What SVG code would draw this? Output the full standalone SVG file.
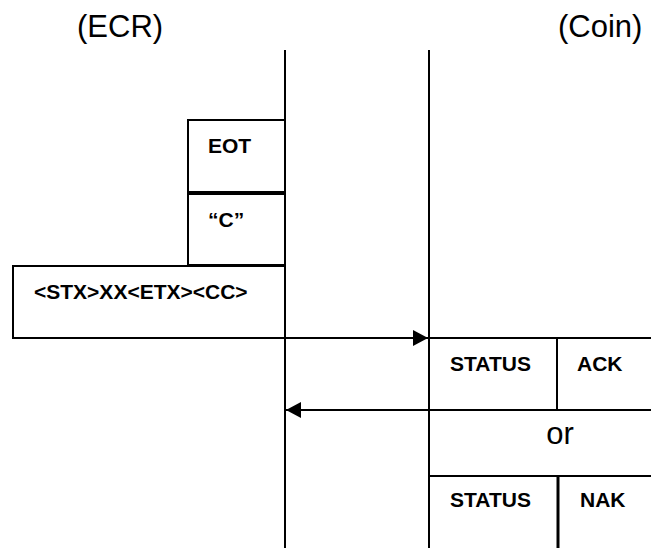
<svg xmlns="http://www.w3.org/2000/svg" width="651" height="548" viewBox="0 0 651 548">
  <style>
    .ln { stroke: #000; stroke-width: 2; fill: none; }
    .box { stroke: #000; stroke-width: 2; fill: #fff; }
    .hdr { font-family: "Liberation Sans", Arial, sans-serif; font-size: 31px; fill: #000; }
    .lbl { font-family: "Liberation Sans", Arial, sans-serif; font-size: 21px; font-weight: bold; fill: #000; }
  </style>
  <defs>
    <marker id="arrow" viewBox="0 0 15 16" refX="15" refY="8" markerWidth="15" markerHeight="16" markerUnits="userSpaceOnUse" orient="auto">
      <path d="M0,0 L15,8 L0,16 Z" fill="#000"/>
    </marker>
  </defs>

  <rect width="651" height="548" fill="#fff"/>

  <!-- lifeline headers -->
  <g id="ecr-header">
    <text class="hdr" x="77" y="37">(ECR)</text>
  </g>
  <g id="coin-header">
    <text class="hdr" x="558" y="37">(Coin)</text>
  </g>

  <!-- ECR side frames -->
  <g id="eot">
    <rect class="box" x="188" y="120" width="97" height="72"/>
    <text class="lbl" x="208" y="153">EOT</text>
  </g>
  <g id="char-c">
    <rect class="box" x="188" y="194" width="97" height="71"/>
    <text class="lbl" x="208" y="227">“C”</text>
  </g>
  <g id="message">
    <rect class="box" x="13" y="266" width="272" height="72"/>
    <text class="lbl" x="34" y="299">&lt;STX&gt;XX&lt;ETX&gt;&lt;CC&gt;</text>
  </g>

  <!-- Coin side responses -->
  <g id="status-ack">
    <path class="ln" d="M429,338 H651 M429,410 H651 M557,338 V410"/>
    <text class="lbl" x="450" y="371">STATUS</text>
    <text class="lbl" x="577" y="371">ACK</text>
  </g>
  <g id="or-label">
    <text class="hdr" x="560" y="444" text-anchor="middle">or</text>
  </g>
  <g id="status-nak">
    <path class="ln" d="M429,476 H651"/>
    <path d="M558,476 V548" stroke="#000" stroke-width="3"/>
    <text class="lbl" x="450" y="507">STATUS</text>
    <text class="lbl" x="580" y="507">NAK</text>
  </g>

  <!-- lifelines and messages -->
  <g id="connectors">
    <path class="ln" d="M285,50 V548"/>
    <path class="ln" d="M429,50 V548"/>
    <path class="ln" d="M285,338 H428" marker-end="url(#arrow)"/>
    <path class="ln" d="M429,410 H286" marker-end="url(#arrow)"/>
  </g>
</svg>
